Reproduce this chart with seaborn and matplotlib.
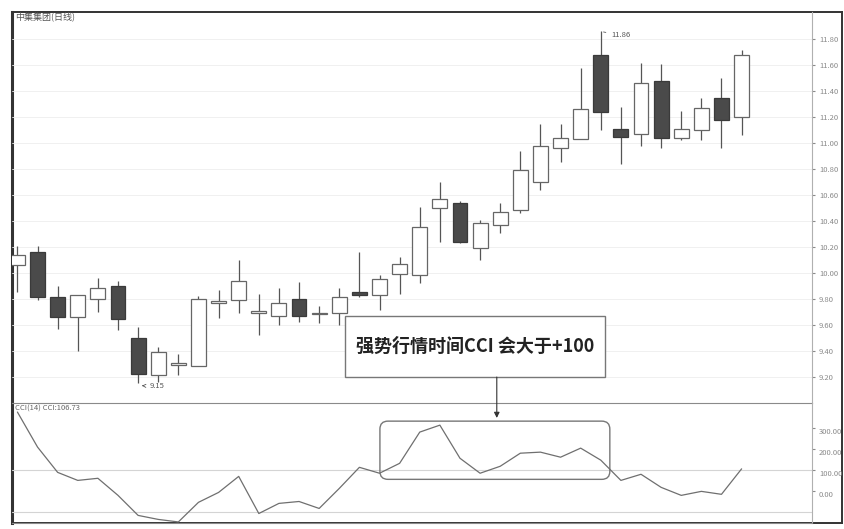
import numpy as np
import pandas as pd
import matplotlib
matplotlib.use('Agg')
import matplotlib.pyplot as plt
import seaborn as sns
from matplotlib.patches import Rectangle, FancyBboxPatch, ConnectionPatch

# daily candles
opens = [10.06, 10.16, 9.81, 9.66, 9.80, 9.90, 9.50, 9.21, 9.29, 9.28, 9.77, 9.79, 9.69,
         9.67, 9.80, 9.68, 9.69, 9.85, 9.83, 9.99, 9.98, 10.50, 10.54, 10.19, 10.37, 10.48,
         10.70, 10.96, 11.03, 11.68, 11.11, 11.07, 11.48, 11.04, 11.10, 11.35, 11.20]
closes = [10.14, 9.81, 9.66, 9.83, 9.88, 9.64, 9.22, 9.39, 9.30, 9.80, 9.78, 9.94, 9.70,
          9.77, 9.67, 9.69, 9.81, 9.83, 9.95, 10.07, 10.35, 10.57, 10.24, 10.38, 10.47, 10.79,
          10.98, 11.04, 11.26, 11.24, 11.05, 11.46, 11.04, 11.11, 11.27, 11.18, 11.68]
highs = [10.21, 10.21, 9.90, 9.83, 9.96, 9.94, 9.58, 9.43, 9.37, 9.82, 9.87, 10.10, 9.84,
         9.88, 9.93, 9.74, 9.88, 10.16, 9.98, 10.12, 10.51, 10.70, 10.55, 10.41, 10.54, 10.94,
         11.15, 11.15, 11.58, 11.86, 11.28, 11.62, 11.61, 11.25, 11.35, 11.50, 11.72]
lows = [9.85, 9.79, 9.57, 9.40, 9.70, 9.56, 9.15, 9.16, 9.21, 9.28, 9.65, 9.69, 9.52,
        9.60, 9.62, 9.61, 9.60, 9.81, 9.71, 9.84, 9.92, 10.24, 10.23, 10.10, 10.31, 10.46,
        10.64, 10.85, 11.03, 11.10, 10.84, 10.98, 10.96, 11.02, 11.02, 10.96, 11.06]
cci = [376, 210, 90, 52, 62, -19, -114, -133, -145, -52, -5, 71, -105, -57, -48, -81, 14,
       114, 86, 133, 281, 314, 157, 86, 119, 181, 186, 162, 205, 148, 52, 81, 19, -19, 0,
       -14, 106.73]

price_ticks = [9.2, 9.4, 9.6, 9.8, 10.0, 10.2, 10.4, 10.6, 10.8, 11.0, 11.2, 11.4, 11.6, 11.8]
cci_ticks = [300, 200, 100, 0]
cci_lines = [100, -100]

title = '中集集团(日线)'
cci_label = 'CCI(14) CCI:106.73'
note = '强势行情时间CCI 会大于+100'

sns.set_style('white')
plt.rcParams['font.family'] = ['Noto Sans CJK SC', 'DejaVu Sans']

df = pd.DataFrame({'open': opens, 'high': highs, 'low': lows, 'close': closes, 'cci': cci})
df['idx'] = np.arange(len(df))
df['up'] = df['close'] >= df['open']

W, H = 845, 529
fig = plt.figure(figsize=(W / 100, H / 100), dpi=100)


def px_box(x0, y0, x1, y1):
    return [x0 / W, 1 - y1 / H, (x1 - x0) / W, (y1 - y0) / H]


# outer frame
frame = fig.add_axes(px_box(12, 12, 842, 523))
frame.set_xticks([])
frame.set_yticks([])
for s in frame.spines.values():
    s.set_color('#333333')
    s.set_linewidth(1.4)
frame.spines['left'].set_linewidth(2.2)

ax1 = fig.add_axes(px_box(12, 12, 812, 403))
ax2 = fig.add_axes(px_box(12, 403, 812, 523), sharex=ax1)
for ax in (ax1, ax2):
    ax.patch.set_alpha(0)
    ax.spines['left'].set_visible(False)
    ax.spines['top'].set_visible(False)
    ax.spines['right'].set_color('#b0b0b0')
    ax.spines['bottom'].set_color('#8a8a8a')

# price panel
for t in price_ticks:
    ax1.axhline(t, color='#eeeeee', lw=0.6, zorder=0)
ax1.vlines(df['idx'], df['low'], df['high'], color='#555555', lw=0.9, zorder=1)
body = (df['close'] - df['open']).abs().clip(lower=0.012)
bottom = df[['open', 'close']].min(axis=1)
ax1.bar(df['idx'], body, bottom=bottom, width=0.74,
        color=np.where(df['up'], 'white', '#4a4a4a'),
        edgecolor=np.where(df['up'], '#666666', '#3a3a3a'), lw=0.9, zorder=2)
ax1.set_xlim(-0.27, 39.5)
ax1.set_ylim(8.996, 12.01)
ax1.yaxis.tick_right()
ax1.set_yticks(price_ticks)
ax1.set_yticklabels([f'{t:.2f}' for t in price_ticks])
ax1.tick_params(axis='y', length=2, labelsize=5.5, colors='#8a8a8a', pad=3)
ax1.tick_params(axis='x', bottom=False, labelbottom=False)

hi_i = int(df['high'].idxmax())
lo_i = int(df['low'].idxmin())
ax1.annotate(f'{highs[hi_i]:.2f}', xy=(hi_i, highs[hi_i]), xytext=(hi_i + 0.55, highs[hi_i] - 0.03),
             fontsize=5.5, color='#555555', va='center',
             arrowprops=dict(arrowstyle='-', lw=0.6, color='#555555'))
ax1.annotate(f'{lows[lo_i]:.2f}', xy=(lo_i + 0.05, lows[lo_i] - 0.02), xytext=(lo_i + 0.55, lows[lo_i] - 0.025),
             fontsize=5.5, color='#555555', va='center',
             arrowprops=dict(arrowstyle='->', lw=0.6, color='#555555'))

# note box
ax1.add_patch(Rectangle((16.28, 9.196), 12.92, 0.474, facecolor='white', edgecolor='#777777',
                        lw=1, zorder=5))
ax1.text(22.74, 9.433, note, ha='center', va='center', fontsize=13, fontweight='bold',
         color='#222222', zorder=6)

# CCI panel
for v in cci_lines:
    ax2.axhline(v, color='#d4d4d4', lw=0.8, zorder=0)
sns.lineplot(x=df['idx'], y=df['cci'], ax=ax2, color='#6f6f6f', lw=0.9)
ax2.set_ylim(-150, 419)
ax2.yaxis.tick_right()
ax2.set_yticks(cci_ticks)
ax2.set_yticklabels([f'{t:.2f}' for t in cci_ticks], va='top')
ax2.tick_params(axis='y', length=2, labelsize=5.5, colors='#8a8a8a', pad=3)
ax2.tick_params(axis='x', bottom=False, labelbottom=False)
ax2.set_xlabel('')
ax2.set_ylabel('')
ax2.add_patch(FancyBboxPatch((18.02, 57), 11.43, 276, boxstyle='round,pad=0,rounding_size=0.4',
                             mutation_aspect=95, fill=False, ec='#777777', lw=1))
ax2.text(0.004, 0.985, cci_label, transform=ax2.transAxes, fontsize=5.5, va='top', color='#666666')

arrow = ConnectionPatch(xyA=(23.83, 9.196), coordsA=ax1.transData,
                        xyB=(23.83, 348), coordsB=ax2.transData,
                        arrowstyle='-|>', mutation_scale=8, lw=0.8, color='#333333')
fig.add_artist(arrow)

fig.text(15 / W, 1 - 16 / H, title, fontsize=6.5, color='#555555', va='center')

fig.savefig('out.png', dpi=100)
